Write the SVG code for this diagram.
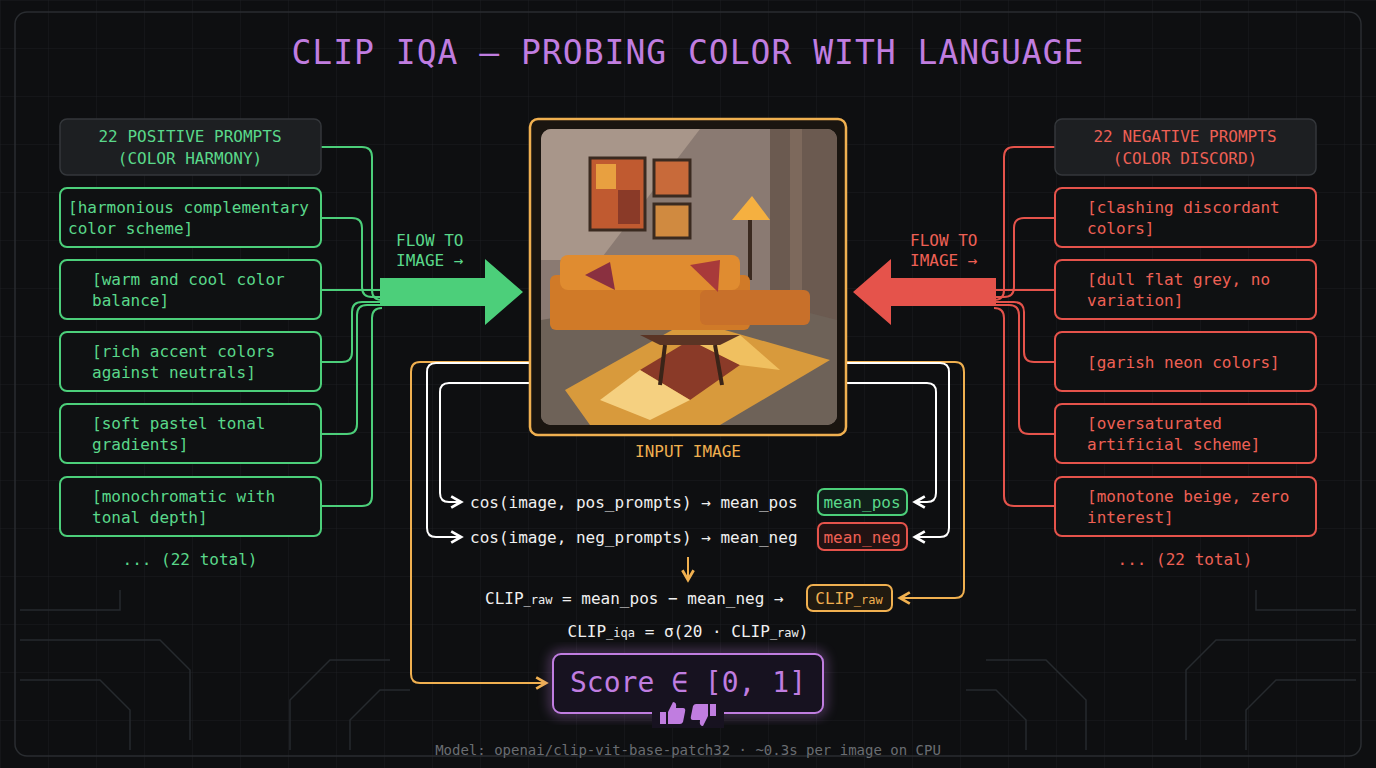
<svg xmlns="http://www.w3.org/2000/svg" width="1376" height="768" viewBox="0 0 1376 768">
<defs>
<pattern id="grid" width="48" height="48" patternUnits="userSpaceOnUse"><path d="M48 0H0V48" fill="none" stroke="#1c1e22" stroke-width="1"/></pattern>
<marker id="aw" viewBox="0 0 10 10" refX="8" refY="5" markerWidth="7" markerHeight="7" orient="auto"><path d="M1 1L8 5L1 9" fill="none" stroke="#fff" stroke-width="2"/></marker>
<marker id="ao" viewBox="0 0 10 10" refX="8" refY="5" markerWidth="7" markerHeight="7" orient="auto"><path d="M1 1L8 5L1 9" fill="none" stroke="#f0b050" stroke-width="2"/></marker>
<filter id="glow" x="-20%" y="-20%" width="140%" height="140%"><feGaussianBlur stdDeviation="6"/></filter>
<clipPath id="imgclip"><rect x="541" y="129" width="296" height="296" rx="10"/></clipPath>
</defs>
<style>
text{font-family:"DejaVu Sans Mono","Liberation Mono",monospace}
.pb{fill:#0f1112;stroke:#4ccf7a;stroke-width:2}
.nb{fill:#0f1112;stroke:#e5534b;stroke-width:2}
.pt{fill:#5ad88a;font-size:16px}
.nt{fill:#ee6055;font-size:16px}
.gl{fill:none;stroke:#4ccf7a;stroke-width:2}
.rl{fill:none;stroke:#e5534b;stroke-width:2}
.wl{fill:none;stroke:#fff;stroke-width:2}
.ol{fill:none;stroke:#f0b050;stroke-width:2}
.ct{fill:#f0f0f0;font-size:16px}
.cl{fill:none;stroke:#262a2e;stroke-width:1.5}
</style>
<rect width="1376" height="768" fill="#0e0f11"/>
<rect width="1376" height="768" fill="url(#grid)"/>
<rect x="15" y="12" width="1346" height="744" rx="12" fill="none" stroke="#2a2d31" stroke-width="1.5"/>
<g id="circuits">
<path class="cl" d="M20 610H120V590M20 640H160L190 670V740M20 680H100L130 710V750M290 750V700L330 660H390M350 750V720L380 690H410"/>
<path class="cl" d="M1356 610H1256V590M1356 640H1216L1186 670V740M1356 680H1276L1246 710V750M1086 750V700L1046 660H986M1026 750V720L996 690H966"/>
</g>
<text x="688" y="64" text-anchor="middle" font-size="33" fill="#c07de0" letter-spacing="1">CLIP IQA — PROBING COLOR WITH LANGUAGE</text>

<g id="connectors">
<path class="gl" d="M321 147H362Q372 147 372 157V290Q372 300 382 300"/>
<path class="gl" d="M321 218H352Q362 218 362 228V287Q362 297 372 297H382"/>
<path class="gl" d="M321 290H382"/>
<path class="gl" d="M321 362H342Q352 362 352 352V312Q352 302 362 302H382"/>
<path class="gl" d="M321 434H347Q357 434 357 424V315Q357 305 367 305H382"/>
<path class="gl" d="M321 506H362Q372 506 372 496V318Q372 308 382 308"/>
<path class="rl" d="M1055 147H1014Q1004 147 1004 157V290Q1004 300 994 300"/>
<path class="rl" d="M1055 218H1024Q1014 218 1014 228V287Q1014 297 1004 297H994"/>
<path class="rl" d="M1055 290H994"/>
<path class="rl" d="M1055 362H1034Q1024 362 1024 352V312Q1024 302 1014 302H994"/>
<path class="rl" d="M1055 434H1029Q1019 434 1019 424V315Q1019 305 1009 305H994"/>
<path class="rl" d="M1055 506H1014Q1004 506 1004 496V318Q1004 308 994 308"/>
<path d="M380 278H485V259L523 292L485 325V306H380Z" fill="#4ccf7a"/>
<path d="M996 278H891V259L853 292L891 325V306H996Z" fill="#e5534b"/>
<path class="ol" d="M530 362H420Q411 362 411 372V674Q411 683 420 683H546" marker-end="url(#ao)"/>
<path class="wl" d="M530 363H436Q427 363 427 372V528Q427 537 436 537H461" marker-end="url(#aw)"/>
<path class="wl" d="M530 383H449Q440 383 440 392V493Q440 502 449 502H461" marker-end="url(#aw)"/>
<path class="ol" d="M846 362H955Q964 362 964 372V589Q964 598 955 598H900" marker-end="url(#ao)"/>
<path class="wl" d="M846 363H940Q949 363 949 372V528Q949 537 940 537H915" marker-end="url(#aw)"/>
<path class="wl" d="M846 383H927Q936 383 936 392V493Q936 502 927 502H915" marker-end="url(#aw)"/>
<path class="ol" d="M688 557V580" marker-end="url(#ao)"/>
</g>

<g id="pos-header"><rect x="60" y="119" width="261" height="56" rx="7" fill="#1d1f22" stroke="#34373b" stroke-width="1.5"/>
<text class="pt" x="190" y="142" text-anchor="middle">22 POSITIVE PROMPTS</text><text class="pt" x="190" y="164" text-anchor="middle">(COLOR HARMONY)</text></g>
<g id="pos1"><rect class="pb" x="60" y="188" width="261" height="59" rx="7"/><text class="pt" x="68" y="213">[harmonious complementary</text><text class="pt" x="68" y="234">color scheme]</text></g>
<g id="pos2"><rect class="pb" x="60" y="260" width="261" height="59" rx="7"/><text class="pt" x="92" y="285">[warm and cool color</text><text class="pt" x="92" y="306">balance]</text></g>
<g id="pos3"><rect class="pb" x="60" y="332" width="261" height="59" rx="7"/><text class="pt" x="92" y="357">[rich accent colors</text><text class="pt" x="92" y="378">against neutrals]</text></g>
<g id="pos4"><rect class="pb" x="60" y="404" width="261" height="59" rx="7"/><text class="pt" x="92" y="429">[soft pastel tonal</text><text class="pt" x="92" y="450">gradients]</text></g>
<g id="pos5"><rect class="pb" x="60" y="477" width="261" height="59" rx="7"/><text class="pt" x="92" y="502">[monochromatic with</text><text class="pt" x="92" y="523">tonal depth]</text></g>
<text class="pt" x="190" y="565" text-anchor="middle">... (22 total)</text>

<g id="neg-header"><rect x="1055" y="119" width="261" height="56" rx="7" fill="#1d1f22" stroke="#34373b" stroke-width="1.5"/>
<text class="nt" x="1185" y="142" text-anchor="middle">22 NEGATIVE PROMPTS</text><text class="nt" x="1185" y="164" text-anchor="middle">(COLOR DISCORD)</text></g>
<g id="neg1"><rect class="nb" x="1055" y="188" width="261" height="59" rx="7"/><text class="nt" x="1087" y="213">[clashing discordant</text><text class="nt" x="1087" y="234">colors]</text></g>
<g id="neg2"><rect class="nb" x="1055" y="260" width="261" height="59" rx="7"/><text class="nt" x="1087" y="285">[dull flat grey, no</text><text class="nt" x="1087" y="306">variation]</text></g>
<g id="neg3"><rect class="nb" x="1055" y="332" width="261" height="59" rx="7"/><text class="nt" x="1087" y="368">[garish neon colors]</text></g>
<g id="neg4"><rect class="nb" x="1055" y="404" width="261" height="59" rx="7"/><text class="nt" x="1087" y="429">[oversaturated</text><text class="nt" x="1087" y="450">artificial scheme]</text></g>
<g id="neg5"><rect class="nb" x="1055" y="477" width="261" height="59" rx="7"/><text class="nt" x="1087" y="502">[monotone beige, zero</text><text class="nt" x="1087" y="523">interest]</text></g>
<text class="nt" x="1185" y="565" text-anchor="middle">... (22 total)</text>

<text class="pt" x="396" y="246">FLOW TO</text><text class="pt" x="396" y="266">IMAGE →</text>
<text class="nt" x="910" y="246">FLOW TO</text><text class="nt" x="910" y="266">IMAGE →</text>

<g id="input-image">
<rect x="530" y="119" width="316" height="316" rx="8" fill="#1a1510" stroke="#f0b050" stroke-width="2.5"/>
<g clip-path="url(#imgclip)">
<rect x="541" y="129" width="296" height="296" fill="#8a7a72"/>
<path d="M541 129H700L600 260H541Z" fill="#a8968a"/>
<rect x="770" y="129" width="67" height="200" fill="#6b5a50"/>
<rect x="790" y="129" width="12" height="200" fill="#7d695c"/>
<rect x="590" y="158" width="55" height="72" fill="#c05a30" stroke="#3a2a20" stroke-width="3"/>
<rect x="596" y="164" width="20" height="25" fill="#e8a040"/><rect x="618" y="190" width="22" height="34" fill="#8a3a28"/>
<rect x="654" y="160" width="36" height="36" fill="#c86a3a" stroke="#3a2a20" stroke-width="3"/>
<rect x="654" y="204" width="36" height="34" fill="#d08a40" stroke="#3a2a20" stroke-width="3"/>
<path d="M732 220L752 196L770 220Z" fill="#f5b040"/><rect x="748" y="220" width="4" height="60" fill="#3a2a20"/>
<path d="M541 320L720 290L837 320V425H541Z" fill="#6e6258"/>
<path d="M565 390L690 320L830 360L720 425H590Z" fill="#d89a3c"/>
<path d="M640 370L690 340L740 365L690 400Z" fill="#8a3a28"/><path d="M690 340L740 335L780 370L740 365Z" fill="#f0c060"/>
<path d="M600 400L640 370L690 400L650 420Z" fill="#f5d080"/>
<rect x="550" y="275" width="200" height="55" rx="6" fill="#d07a28"/>
<rect x="560" y="255" width="180" height="35" rx="8" fill="#e08c30"/>
<rect x="700" y="290" width="110" height="35" rx="6" fill="#c8702a"/>
<path d="M585 275L610 262L615 290Z" fill="#8a3040"/><path d="M690 265L720 260L718 292Z" fill="#a83a3a"/>
<path d="M640 335H740L720 345H660Z" fill="#5a3424"/>
<path d="M665 345L660 385M715 345L722 385" stroke="#3a2418" stroke-width="4"/>
</g>
</g>
<text x="688" y="457" text-anchor="middle" font-size="16" fill="#f0b050">INPUT IMAGE</text>

<g id="formulas">
<text class="ct" x="470" y="508">cos(image, pos_prompts) → mean_pos</text>
<text class="ct" x="470" y="543">cos(image, neg_prompts) → mean_neg</text>
<g id="mean-pos"><rect x="818" y="489" width="89" height="26" rx="6" fill="#10201a" stroke="#4ccf7a" stroke-width="2"/><text x="862" y="508" text-anchor="middle" font-size="16" fill="#5ad88a">mean_pos</text></g>
<g id="mean-neg"><rect x="818" y="523" width="89" height="27" rx="6" fill="#221212" stroke="#e5534b" stroke-width="2"/><text x="862" y="543" text-anchor="middle" font-size="16" fill="#ee6055">mean_neg</text></g>
<text class="ct" x="485" y="604">CLIP<tspan font-size="12">_raw</tspan> = mean_pos − mean_neg →</text>
<g id="clip-raw"><rect x="807" y="585" width="85" height="26" rx="6" fill="#201a10" stroke="#f0b050" stroke-width="2"/><text x="849" y="604" text-anchor="middle" font-size="16" fill="#f0b050">CLIP<tspan font-size="12">_raw</tspan></text></g>
<text class="ct" x="688" y="637" text-anchor="middle">CLIP<tspan font-size="12">_iqa</tspan> = σ(20 · CLIP<tspan font-size="12">_raw</tspan>)</text>
</g>

<g id="score">
<rect x="553" y="654" width="270" height="59" rx="8" fill="none" stroke="#c07de0" stroke-width="6" opacity="0.5" filter="url(#glow)"/>
<rect x="553" y="654" width="270" height="59" rx="8" fill="#171220" stroke="#c07de0" stroke-width="2"/>
<text x="688" y="692" text-anchor="middle" font-size="28" fill="#c07de0">Score ∈ [0, 1]</text>
<rect x="652" y="700" width="72" height="28" fill="#171220"/>
<path d="M660 712h6v12h-6zM668 712l5-10q4 0 3 6h7q3 0 2 4l-2 10q-1 2-3 2h-12z" fill="#c07de0"/>
<path d="M716 716h-6v-12h6zM708 716l-5 10q-4 0-3-6h-7q-3 0-2-4l2-10q1-2 3-2h12z" fill="#c07de0"/>
</g>

<text x="688" y="755" text-anchor="middle" font-size="14" fill="#6a6d72">Model: openai/clip-vit-base-patch32 · ~0.3s per image on CPU</text>
</svg>
